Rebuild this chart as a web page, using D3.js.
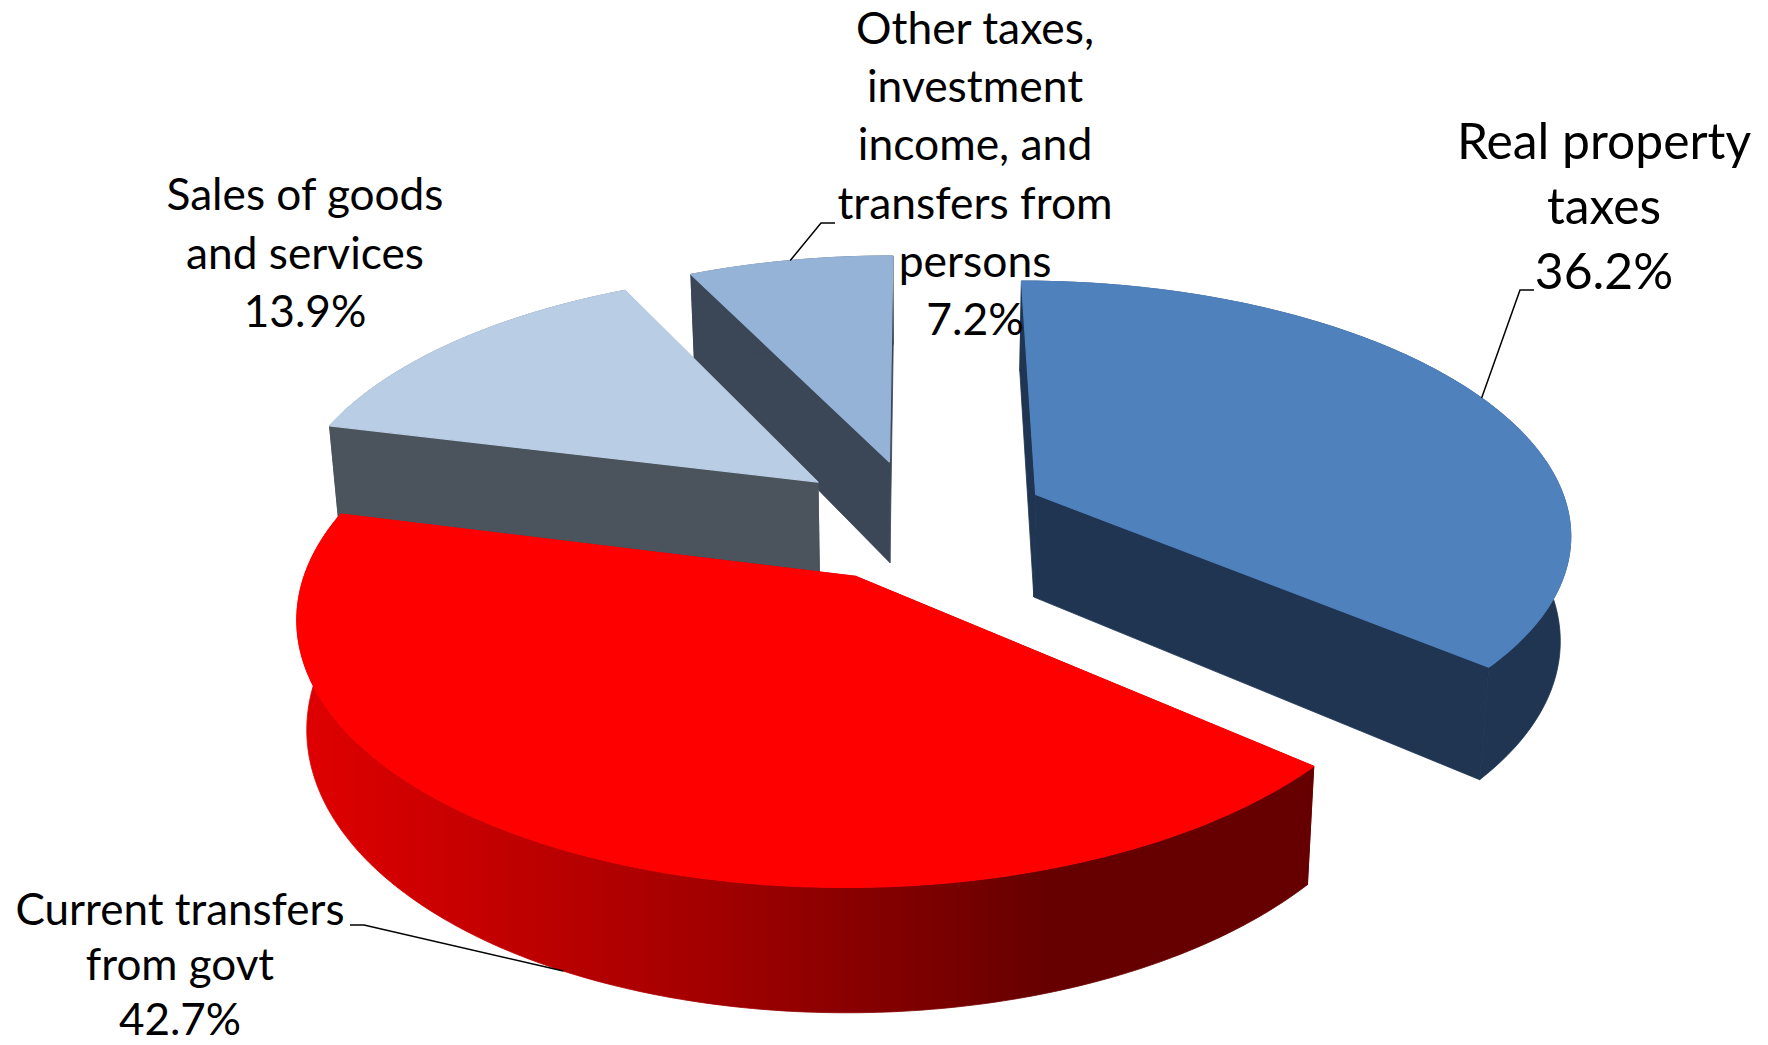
<!DOCTYPE html>
<html><head><meta charset="utf-8">
<script src="https://cdn.jsdelivr.net/npm/d3@7"></script>
<style>html,body{margin:0;padding:0;background:#fff}svg{display:block}text{font-family:Lato,Carlito,sans-serif;fill:#000}</style>
</head><body><svg id="c" width="1768" height="1045"></svg>
<script>
const categories=["Real property taxes","Current transfers from govt","Sales of goods and services","Other taxes, investment income, and transfers from persons"];
const shares=[36.2,42.7,13.9,7.2];
const topColors=["#4f81bd","#ff0000","#b9cde5","#95b3d7"];
const wallColors=["#1f3552","url(#redWall)","#4b545d","#3b4656"];
const labelLines=[["Real property","taxes","36.2%"],["Current transfers","from govt","42.7%"],["Sales of goods","and services","13.9%"],["Other taxes,","investment","income, and","transfers from","persons","7.2%"]];
const labelCenters=[[1604,146],[180,914],[305,199],[975,33]];
const labelSizes=[49.8,44,44.2,44.4];
const labelLeading=[65,55,58.5,58.1];
const leaderElbows=[[[1520,290],[1534,290]],[[364,925],[350,925]],null,[[821,223],[835,223]]];

const cx=918,cy=520,A=535,B=250,k=0.14,H=104,explode=0.246,squeeze=0.016;
const svg=d3.select("#c");
const defs=svg.append("defs");
const g=defs.append("linearGradient").attr("id","redWall").attr("gradientUnits","userSpaceOnUse").attr("x1",300).attr("x2",1150).attr("y1",0).attr("y2",0);
[[0,"#e00000"],[0.5,"#a00000"],[0.88,"#660000"],[1,"#660000"]].forEach(s=>g.append("stop").attr("offset",s[0]).attr("stop-color",s[1]));

function proj(x,y,low){const s=1/(1+k*y);const q=low?1-squeeze:1;return [cx+A*x*s*q,cy-B*y*s+(low?H*s:0)];}
const arcs=d3.pie().sort(null).startAngle(0).endAngle(2*Math.PI)(shares);
const line=d3.line();
const order=[3,2,0,1];
const pieces=arcs.map((a,i)=>{
  const mid=(a.startAngle+a.endAngle)/2, ox=explode*Math.sin(mid), oy=explode*Math.cos(mid);
  const n=Math.ceil((a.endAngle-a.startAngle)*60);
  const rim=d3.range(n+1).map(j=>{const t=a.startAngle+(a.endAngle-a.startAngle)*j/n;return [ox+Math.sin(t),oy+Math.cos(t)];});
  return {i,mid,ox,oy,rim};
});
order.forEach(i=>{
  const p=pieces[i], c=[p.ox,p.oy], top=q=>proj(q[0],q[1],false), low=q=>proj(q[0],q[1],true);
  const f=svg.append("g");
  const wall=pts=>f.append("path").attr("d",line(pts)+"Z").attr("fill",wallColors[i]).attr("stroke",wallColors[i]).attr("stroke-width",0.8);
  wall([top(c),top(p.rim[0]),low(p.rim[0]),low(c)]);
  wall([top(c),top(p.rim[p.rim.length-1]),low(p.rim[p.rim.length-1]),low(c)]);
  wall(p.rim.map(top).concat(p.rim.map(low).reverse()));
  f.append("path").attr("d",line([top(c)].concat(p.rim.map(top)))+"Z").attr("fill",topColors[i]).attr("stroke",topColors[i]).attr("stroke-width",1.2).attr("stroke-linejoin","round");
});
pieces.forEach(p=>{
  const el=leaderElbows[p.i]; if(!el) return;
  const x=p.ox+Math.sin(p.mid), y=p.oy+Math.cos(p.mid);
  const s=proj(x,y,p.i===1);
  svg.append("path").attr("d",line([s,el[0],el[1]])).attr("fill","none").attr("stroke","#000").attr("stroke-width",1.5);
});
labelLines.forEach((ls,i)=>{
  const t=svg.append("g").attr("transform",`translate(${labelCenters[i][0]},${labelCenters[i][1]})`);
  ls.forEach((l,j)=>t.append("text").attr("y",j*labelLeading[i]).attr("text-anchor","middle").attr("dominant-baseline","middle").attr("font-size",labelSizes[i]).text(l));
});
</script></body></html>
